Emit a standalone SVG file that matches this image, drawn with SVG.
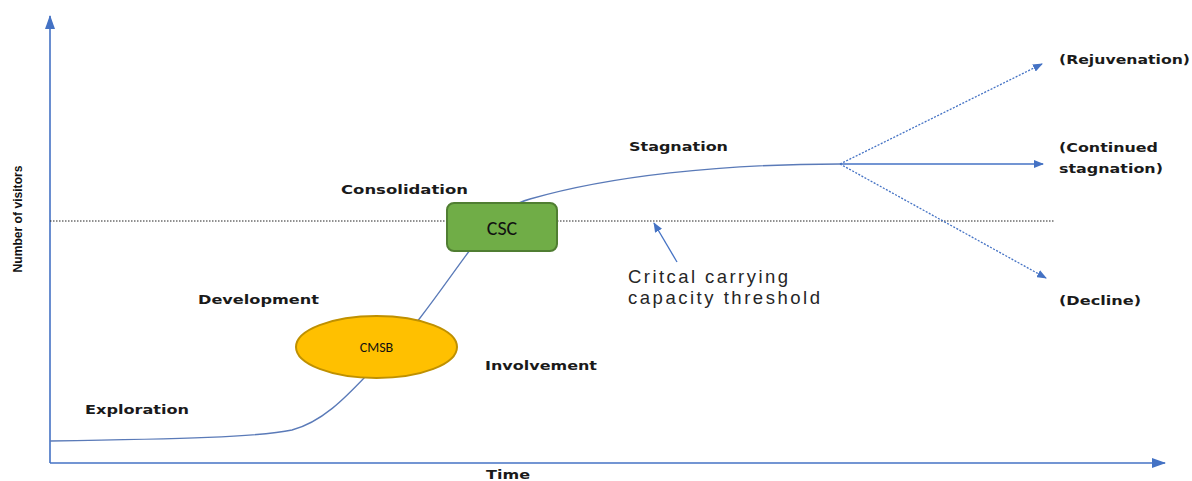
<svg xmlns="http://www.w3.org/2000/svg" width="1192" height="481" viewBox="0 0 1192 481">
<style>
.lbl{font-family:"DejaVu Sans",sans-serif;font-weight:bold;font-size:13px;fill:#1a1a1a}
.axis{stroke:#4472C4;stroke-width:1.6;fill:none}
.curve{stroke:#5A7AB8;stroke-width:1.3;fill:none}
.br{stroke:#4472C4;stroke-width:1.3;fill:none}
.dot{stroke-dasharray:2 1.5}
</style>
<defs>
<marker id="ah" markerWidth="10" markerHeight="8" refX="9" refY="4" orient="auto" markerUnits="userSpaceOnUse">
<path d="M0,0 L10,4 L0,8 Z" fill="#4472C4"/>
</marker>
<marker id="ahL" markerWidth="14" markerHeight="10" refX="13" refY="5" orient="auto" markerUnits="userSpaceOnUse">
<path d="M0,0 L14,5 L0,10 Z" fill="#4472C4"/>
</marker>
</defs>
<rect width="1192" height="481" fill="#fff"/>
<g id="connectors">
<line class="axis" x1="50" y1="463" x2="50" y2="16" marker-end="url(#ahL)"/>
<line class="axis" x1="50" y1="463" x2="1165" y2="463" marker-end="url(#ahL)"/>
<line x1="50" y1="221" x2="1054" y2="221" stroke="#222" stroke-width="1" stroke-dasharray="1.5 1.5"/>
<path class="curve" d="M50,441 C180,439 260,437 292,430 C322,422 345,398 365,377 C385,356 400,343 420,318 C440,292 455,270 470,250 C490,222 505,206 530,199 C610,176 720,164 840,164"/>
<line class="br dot" x1="840" y1="164" x2="1042" y2="64" marker-end="url(#ah)"/>
<line class="br" x1="840" y1="164" x2="1043" y2="164" marker-end="url(#ah)"/>
<line class="br dot" x1="840" y1="164" x2="1046" y2="278" marker-end="url(#ah)"/>
<line class="br" x1="677" y1="262" x2="654" y2="223" marker-end="url(#ah)"/>
</g>
<g id="cmsb">
<ellipse cx="376.5" cy="347" rx="80.5" ry="31" fill="#FFC000" stroke="#BF9000" stroke-width="2"/>
<text x="376.5" y="352" text-anchor="middle" font-family="Carlito,'Liberation Sans',sans-serif" font-size="14" fill="#111">CMSB</text>
</g>
<g id="csc">
<rect x="447" y="203" width="110" height="48" rx="7" fill="#70AD47" stroke="#507E32" stroke-width="2"/>
<text x="502" y="235" text-anchor="middle" font-family="Carlito,'Liberation Sans',sans-serif" font-size="20" fill="#111">CSC</text>
</g>
<g id="labels">
<text class="lbl" x="85" y="414" textLength="104" lengthAdjust="spacingAndGlyphs">Exploration</text>
<text class="lbl" x="198" y="304" textLength="121" lengthAdjust="spacingAndGlyphs">Development</text>
<text class="lbl" x="341" y="194" textLength="127" lengthAdjust="spacingAndGlyphs">Consolidation</text>
<text class="lbl" x="485" y="370" textLength="112" lengthAdjust="spacingAndGlyphs">Involvement</text>
<text class="lbl" x="629" y="151" textLength="99" lengthAdjust="spacingAndGlyphs">Stagnation</text>
<text class="lbl" x="1059" y="64" textLength="131" lengthAdjust="spacingAndGlyphs">(Rejuvenation)</text>
<text class="lbl" x="1059" y="152" textLength="99" lengthAdjust="spacingAndGlyphs">(Continued</text>
<text class="lbl" x="1059" y="173" textLength="104" lengthAdjust="spacingAndGlyphs">stagnation)</text>
<text class="lbl" x="1059" y="305" textLength="82" lengthAdjust="spacingAndGlyphs">(Decline)</text>
<text class="lbl" x="486" y="479" textLength="44" lengthAdjust="spacingAndGlyphs">Time</text>
<text x="628" y="283" font-family="'Liberation Sans',sans-serif" font-size="18.5" fill="#262626" textLength="160" lengthAdjust="spacing">Critcal carrying</text>
<text x="628" y="304" font-family="'Liberation Sans',sans-serif" font-size="18.5" fill="#262626" textLength="192" lengthAdjust="spacing">capacity threshold</text>
<text transform="translate(22,219) rotate(-90)" text-anchor="middle" font-family="'Liberation Sans Narrow','Liberation Sans',sans-serif" font-weight="bold" font-size="13.5" fill="#111" textLength="107" lengthAdjust="spacingAndGlyphs">Number of visitors</text>
</g>
</svg>
